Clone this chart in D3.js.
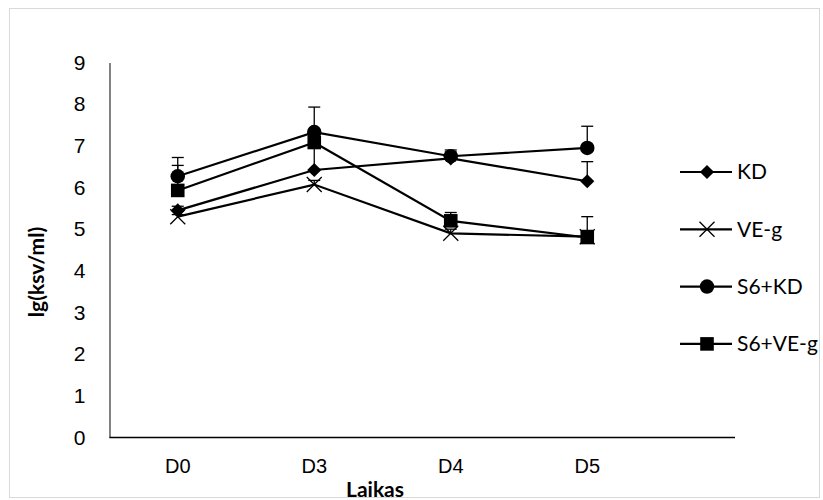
<!DOCTYPE html>
<html>
<head>
<meta charset="utf-8">
<script src="https://cdn.jsdelivr.net/npm/d3@7"></script>
<style>
  body { margin: 0; background: #fff; }
  svg { font-family: Lato, "Open Sans", sans-serif; }
</style>
</head>
<body>
<div id="chart"></div>
<script>
var days = ["D0", "D3", "D4", "D5"];
var seriesNames = ["KD", "VE-g", "S6+KD", "S6+VE-g"];
var kd = [5.45, 6.42, 6.70, 6.15];
var veg = [5.30, 6.07, 4.90, 4.82];
var s6kd = [6.27, 7.33, 6.75, 6.95];
var s6veg = [5.93, 7.08, 5.20, 4.80];
// upper error bars (plus only)
var kdErr = [0.10, 0.60, 0.15, 0.47];
var vegErr = [0.05, 0.10, 0.10, 0.15];
var s6kdErr = [0.45, 0.60, 0.15, 0.52];
var s6vegErr = [0.60, 0.30, 0.20, 0.50];
var yTicks = [0, 1, 2, 3, 4, 5, 6, 7, 8, 9];

var series = [
  {name: seriesNames[0], values: kd, err: kdErr, symbol: "diamond", size: 100},
  {name: seriesNames[1], values: veg, err: vegErr, symbol: "x", size: 0},
  {name: seriesNames[2], values: s6kd, err: s6kdErr, symbol: d3.symbolCircle, size: 165},
  {name: seriesNames[3], values: s6veg, err: s6vegErr, symbol: d3.symbolSquare, size: 185}
];

var W = 823, H = 500;
var plotLeft = 109.5, plotRight = 735, plotTop = 62.5, plotBottom = 437.5;
var bandStep = 136.5;

var svg = d3.select("#chart").append("svg")
  .attr("width", W)
  .attr("height", H);

// outer frame
svg.append("rect")
  .attr("x", 9.5).attr("y", 8.5)
  .attr("width", 810).attr("height", 489)
  .attr("fill", "none")
  .attr("stroke", "#d9d9d9");

var x = d3.scaleBand().domain(days).range([plotLeft, plotLeft + bandStep * days.length]);
var y = d3.scaleLinear().domain([0, 9]).range([plotBottom, plotTop]);

function cx(d, i) { return x(days[i]) + x.bandwidth() / 2; }

var yAxis = svg.append("g")
  .attr("transform", "translate(" + plotLeft + ",0)")
  .call(d3.axisLeft(y).tickValues(yTicks).tickSize(0).tickPadding(24));
yAxis.select(".domain").attr("stroke", "#404040").attr("stroke-width", 1.3);
yAxis.selectAll("text").attr("font-size", 21).attr("fill", "#000");

var xAxis = svg.append("g")
  .attr("transform", "translate(0," + plotBottom + ")")
  .call(d3.axisBottom(x).tickSize(0).tickPadding(21));
xAxis.select(".domain").remove();
xAxis.append("line")
  .attr("x1", plotLeft).attr("x2", plotRight)
  .attr("stroke", "#000").attr("stroke-width", 1.6);
xAxis.selectAll("text").attr("font-size", 20).attr("fill", "#000");

svg.append("text")
  .attr("transform", "translate(44,272) rotate(-90)")
  .attr("text-anchor", "middle")
  .attr("font-size", 21)
  .attr("font-weight", "bold")
  .text("lg(ksv/ml)");

svg.append("text")
  .attr("x", 375)
  .attr("y", 497)
  .attr("text-anchor", "middle")
  .attr("font-size", 21)
  .attr("font-weight", "bold")
  .text("Laikas");

var line = d3.line()
  .x(cx)
  .y(function(d) { return y(d); });

function drawMarker(g, s, px, py) {
  if (s.symbol === "x") {
    var r = 7.5;
    g.append("path")
      .attr("d", "M" + (px - r) + "," + (py - r) + "L" + (px + r) + "," + (py + r) +
                 "M" + (px - r) + "," + (py + r) + "L" + (px + r) + "," + (py - r))
      .attr("stroke", "#000")
      .attr("stroke-width", 1.3)
      .attr("fill", "none");
  } else if (s.symbol === "diamond") {
    g.append("path")
      .attr("d", d3.symbol().type(d3.symbolSquare).size(s.size)())
      .attr("transform", "translate(" + px + "," + py + ") rotate(45)")
      .attr("fill", "#000");
  } else {
    g.append("path")
      .attr("d", d3.symbol().type(s.symbol).size(s.size)())
      .attr("transform", "translate(" + px + "," + py + ")")
      .attr("fill", "#000");
  }
}

// error bars
series.forEach(function(s) {
  var g = svg.append("g").attr("class", "err");
  s.values.forEach(function(v, i) {
    var px = cx(v, i);
    g.append("line")
      .attr("x1", px).attr("x2", px)
      .attr("y1", y(v)).attr("y2", y(v + s.err[i]))
      .attr("stroke", "#000").attr("stroke-width", 1.3);
    g.append("line")
      .attr("x1", px - 6).attr("x2", px + 6)
      .attr("y1", y(v + s.err[i])).attr("y2", y(v + s.err[i]))
      .attr("stroke", "#000").attr("stroke-width", 1.3);
  });
});

// lines and markers
series.forEach(function(s) {
  svg.append("path")
    .datum(s.values)
    .attr("d", line)
    .attr("fill", "none")
    .attr("stroke", "#000")
    .attr("stroke-width", 2.2);
  var g = svg.append("g");
  s.values.forEach(function(v, i) {
    drawMarker(g, s, cx(v, i), y(v));
  });
});

// legend
var legend = svg.append("g").selectAll("g")
  .data(series)
  .enter()
  .append("g")
  .attr("transform", function(d, i) {
    return "translate(707," + (172 + i * 57.3) + ")";
  });

legend.append("line")
  .attr("x1", -27).attr("x2", 25)
  .attr("stroke", "#000")
  .attr("stroke-width", 2.2);

legend.each(function(d) {
  drawMarker(d3.select(this), d, 0, 0);
});

legend.append("text")
  .attr("x", 30)
  .attr("dy", "0.35em")
  .attr("font-size", 21)
  .text(function(d) { return d.name; });
</script>
</body>
</html>
